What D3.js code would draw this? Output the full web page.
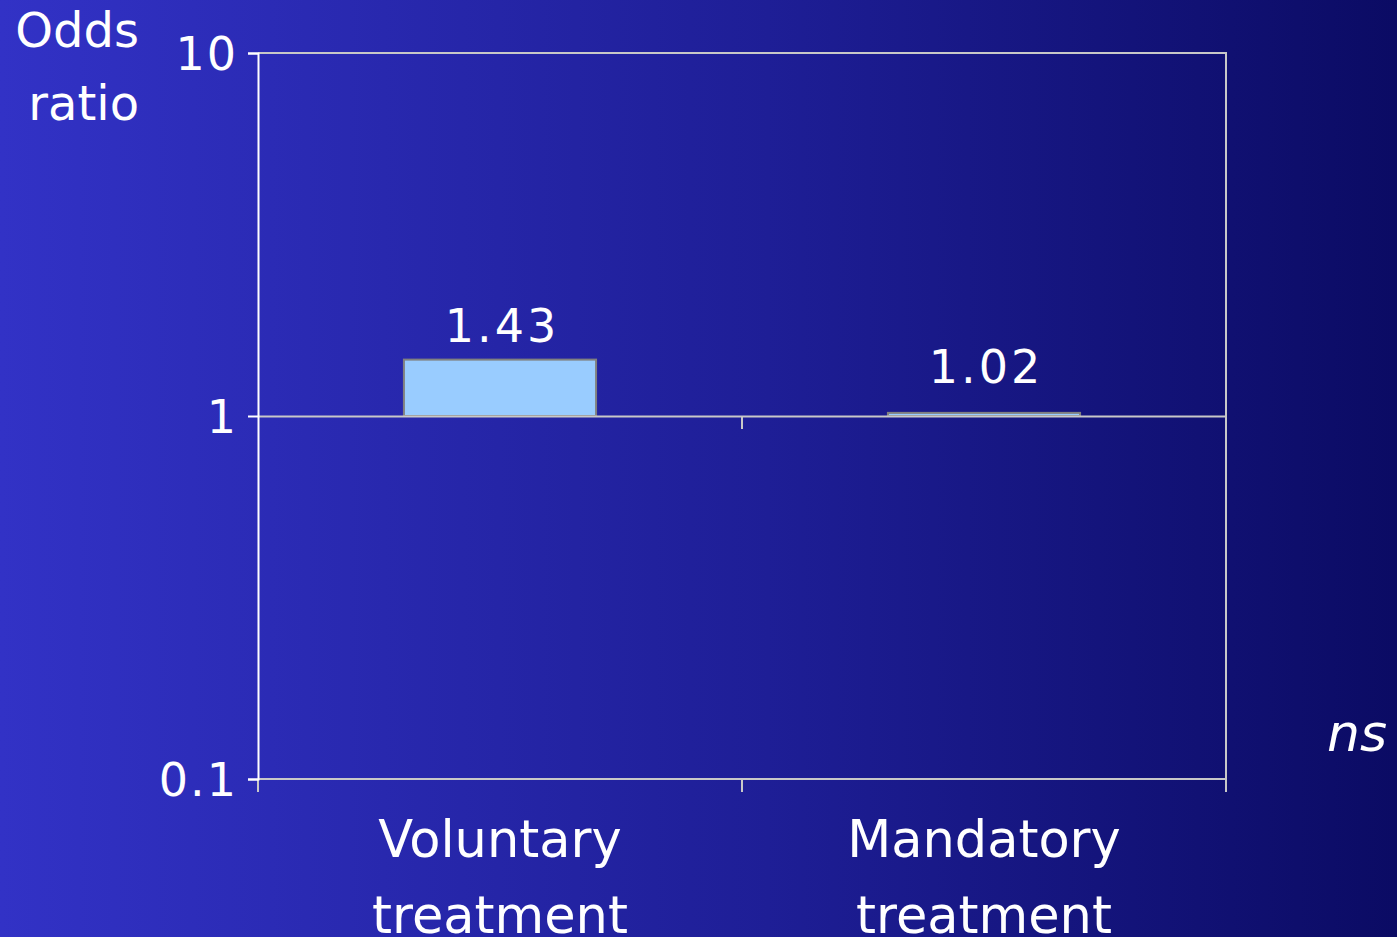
<!DOCTYPE html>
<html><head><meta charset="utf-8">
<script src="https://cdn.jsdelivr.net/npm/d3@7"></script>
<style>html,body{margin:0;padding:0;overflow:hidden;background:#1c1c99}</style>
</head><body>
<script>
const categories = ["Voluntary|treatment", "Mandatory|treatment"];
const oddsRatios = [1.43, 1.02];
const valueLabels = ["1.43", "1.02"];
const yTicks = [0.1, 1, 10];
const yTickLabels = ["0.1", "1", "10"];
const yTitle = ["Odds", "ratio"];
const note = "ns";

(function () {
const W = 1397, H = 937;
const mLeft = 258, mRight = 1226, mTop = 53, mBottom = 779;
const font = "'DejaVu Sans', Verdana, sans-serif";

const svg = d3.select("body").append("svg").attr("width", W).attr("height", H);
const defs = svg.append("defs");
const g = defs.append("linearGradient").attr("id", "bg").attr("x1", 0).attr("x2", 1).attr("y1", 0).attr("y2", 0);
g.append("stop").attr("offset", "0%").attr("stop-color", "#3232c6");
g.append("stop").attr("offset", "55%").attr("stop-color", "#1e1e96");
g.append("stop").attr("offset", "100%").attr("stop-color", "#0b0b64");
svg.append("rect").attr("width", W).attr("height", H).attr("fill", "url(#bg)");

const y = d3.scaleLog().domain([0.1, 10]).range([mBottom, mTop]);
const x = d3.scaleBand().domain(categories).range([mLeft, mRight]).padding(0);
const barW = x.bandwidth() * 0.397;

svg.append("path").attr("d", `M${mLeft},${mTop}H${mRight}V${mBottom}H${mLeft}`)
  .attr("fill", "none").attr("stroke", "#c8c8c8").attr("stroke-width", 2);

svg.selectAll("rect.bar").data(oddsRatios).join("rect").attr("class", "bar")
  .attr("x", (d, i) => x(categories[i]) + x.bandwidth() / 2 - barW / 2)
  .attr("width", barW)
  .attr("y", d => y(d))
  .attr("height", d => y(1) - y(d))
  .attr("fill", "#99ccff").attr("stroke", "#808080").attr("stroke-width", 2);

const ax = svg.append("g").attr("transform", `translate(0,${y(1)})`)
  .call(d3.axisBottom(x).tickSize(0).tickFormat(""));
ax.select(".domain").attr("stroke", "#c8c8c8").attr("stroke-width", 2);
const midTicks = categories.slice(1).map(c => x(c)).concat([mRight]);
svg.selectAll("line.ctick1").data(midTicks).join("line")
  .attr("x1", d => d).attr("x2", d => d)
  .attr("y1", y(1)).attr("y2", y(1) + 13)
  .attr("stroke", "#c8c8c8").attr("stroke-width", 2);
const bt = categories.map(c => x(c)).concat([mRight]);
svg.selectAll("line.ctick2").data(bt).join("line")
  .attr("x1", d => d).attr("x2", d => d)
  .attr("y1", mBottom).attr("y2", mBottom + 13)
  .attr("stroke", "#c8c8c8").attr("stroke-width", 2);

const ya = svg.append("g").attr("transform", `translate(${mLeft},0)`)
  .call(d3.axisLeft(y).tickValues(yTicks).tickSize(10).tickPadding(10)
    .tickFormat((d, i) => yTickLabels[i]));
ya.select(".domain").attr("stroke", "#ffffff").attr("stroke-width", 2);
ya.selectAll(".tick line").attr("stroke", "#ffffff").attr("stroke-width", 2);
ya.selectAll(".tick text").attr("fill", "#ffffff").attr("font-family", font)
  .attr("font-size", 46).attr("letter-spacing", 2).attr("dy", "0.36em");

svg.selectAll("text.val").data(oddsRatios).join("text")
  .attr("x", (d, i) => x(categories[i]) + x.bandwidth() / 2 + 2)
  .attr("y", d => Math.min(y(d) - 18, y(1) - 33))
  .attr("text-anchor", "middle").attr("fill", "#ffffff")
  .attr("font-family", font).attr("font-size", 46).attr("letter-spacing", 3)
  .text((d, i) => valueLabels[i]);

categories.forEach(c => {
  c.split("|").forEach((line, j) => {
    svg.append("text").attr("x", x(c) + x.bandwidth() / 2).attr("y", 857 + j * 76)
      .attr("text-anchor", "middle").attr("fill", "#ffffff")
      .attr("font-family", font).attr("font-size", 51).text(line);
  });
});

yTitle.forEach((t, j) => {
  svg.append("text").attr("x", 139).attr("y", 47 + j * 73).attr("text-anchor", "end")
    .attr("fill", "#ffffff").attr("font-family", font).attr("font-size", 48).text(t);
});

svg.append("text").attr("x", 1387).attr("y", 751).attr("text-anchor", "end")
  .attr("fill", "#ffffff").attr("font-family", font).attr("font-size", 52)
  .attr("font-style", "italic").text(note);
})();
</script>
</body></html>
